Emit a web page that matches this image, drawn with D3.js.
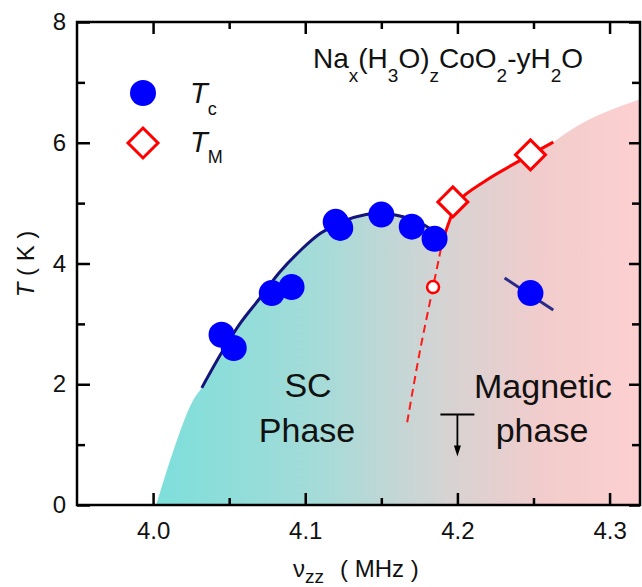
<!DOCTYPE html>
<html>
<head>
<meta charset="utf-8">
<script src="https://cdn.jsdelivr.net/npm/d3@7"></script>
<style>
  body { margin: 0; background: #fff; }
  text { font-family: "Liberation Sans", Arial, sans-serif; fill: #111; }
</style>
</head>
<body>
<svg id="chart" width="642" height="587"></svg>
<script>
// Tc points (filled blue circles)
const tcNu = [4.045, 4.053, 4.078, 4.091, 4.120, 4.123, 4.150, 4.170, 4.185, 4.248];
const tcT  = [2.82, 2.60, 3.51, 3.61, 4.69, 4.59, 4.81, 4.61, 4.41, 3.51];

// TM points (open red diamonds)
const tmNu = [4.197, 4.248];
const tmT  = [5.02, 5.80];

// open red circle
const openNu = [4.184];
const openT  = [3.61];

// upper limit marker (Tc below this)
const limNu = [4.2];
const limT  = [1.5];

// guide line through the Tc dome
const domeNu = [4.032, 4.045, 4.057, 4.070, 4.083, 4.097, 4.110, 4.125, 4.140, 4.150, 4.160, 4.175, 4.185];
const domeT  = [1.94, 2.52, 3.00, 3.42, 3.85, 4.22, 4.50, 4.70, 4.81, 4.83, 4.80, 4.68, 4.52];

// TM guide line, solid part and dashed part
const tmLineNu = [4.190, 4.195, 4.200, 4.219, 4.248, 4.263];
const tmLineT  = [4.35, 4.72, 5.02, 5.38, 5.80, 6.01];
const tmDashNu = [4.167, 4.175, 4.184, 4.188, 4.190];
const tmDashT  = [1.37, 2.50, 3.61, 4.10, 4.35];

// short line through the isolated point
const shortNu = [4.231, 4.263];
const shortT  = [3.76, 3.23];

// shaded phase region upper edge (lower edge is T = 0)
const edgeLeftNu  = [4.002, 4.014, 4.026];
const edgeLeftT   = [0, 0.95, 1.72];
const edgeRightNu = [4.272, 4.32];
const edgeRightT  = [6.17, 6.72];

const xTicks = [4.0, 4.1, 4.2, 4.3];
const xMinor = [4.05, 4.15, 4.25];
const yTicks = [0, 2, 4, 6, 8];
const yMinor = [1, 3, 5, 7];

const svg = d3.select('#chart');
const L = 77, R = 640, T = 22, B = 505;

const x = d3.scaleLinear().domain([3.95, 4.32]).range([L, R]);
const y = d3.scaleLinear().domain([0, 8]).range([B, T]);

const zip = (a, b) => a.map((v, i) => [v, b[i]]);

// clip + gradient
const defs = svg.append('defs');
defs.append('clipPath').attr('id', 'plot')
  .append('rect').attr('x', L).attr('y', T).attr('width', R - L).attr('height', B - T);
const grad = defs.append('linearGradient').attr('id', 'phase')
  .attr('gradientUnits', 'userSpaceOnUse')
  .attr('x1', x(4.0)).attr('x2', x(4.32)).attr('y1', 0).attr('y2', 0);
[[0, '#7cdfdb'], [0.35, '#a6dbd8'], [0.6, '#d6d3d3'], [0.8, '#f2cccc'], [1, '#fdd0d0']]
  .forEach(s => grad.append('stop').attr('offset', s[0]).attr('stop-color', s[1]));

// phase region
const edge = zip(edgeLeftNu, edgeLeftT)
  .concat(zip(domeNu, domeT).filter(d => d[0] < 4.18))
  .concat(zip(tmLineNu, tmLineT))
  .concat(zip(edgeRightNu, edgeRightT));

svg.append('path')
  .datum(edge)
  .attr('clip-path', 'url(#plot)')
  .attr('fill', 'url(#phase)')
  .attr('d', d3.area().x(d => x(d[0])).y0(y(0)).y1(d => y(d[1])).curve(d3.curveMonotoneX));

const line = d3.line().x(d => x(d[0])).y(d => y(d[1])).curve(d3.curveCatmullRom);

svg.append('path').datum(zip(domeNu, domeT))
  .attr('d', line).attr('fill', 'none').attr('stroke', '#14147a').attr('stroke-width', 3);
svg.append('path').datum(zip(shortNu, shortT))
  .attr('d', line).attr('fill', 'none').attr('stroke', '#2a2a8a').attr('stroke-width', 3);
svg.append('path').datum(zip(tmDashNu, tmDashT))
  .attr('d', line).attr('fill', 'none').attr('stroke', '#ff1a1a').attr('stroke-width', 2)
  .attr('stroke-dasharray', '8,5');
svg.append('path').datum(zip(tmLineNu, tmLineT))
  .attr('d', line).attr('fill', 'none').attr('stroke', '#ff0000').attr('stroke-width', 3);

// axes
const axG = svg.append('g').attr('class', 'axes');
function styleAxis(g) {
  g.select('.domain').remove();
  g.selectAll('line').attr('stroke', '#000').attr('stroke-width', 2.5);
  g.selectAll('text').attr('font-size', 24).attr('fill', '#111')
    .style('font-family', '"Liberation Sans", Arial, sans-serif');
}
axG.append('g').attr('transform', `translate(0,${B})`)
  .call(d3.axisBottom(x).tickValues(xTicks).tickFormat(d3.format('.1f')).tickSize(-12).tickPadding(17))
  .call(styleAxis);
axG.append('g').attr('transform', `translate(0,${B})`)
  .call(d3.axisBottom(x).tickValues(xMinor).tickFormat('').tickSize(-7)).call(styleAxis);
axG.append('g').attr('transform', `translate(0,${T})`)
  .call(d3.axisTop(x).tickValues(xTicks).tickFormat('').tickSize(-12)).call(styleAxis);
axG.append('g').attr('transform', `translate(0,${T})`)
  .call(d3.axisTop(x).tickValues(xMinor).tickFormat('').tickSize(-7)).call(styleAxis);
axG.append('g').attr('transform', `translate(${L},0)`)
  .call(d3.axisLeft(y).tickValues(yTicks).tickFormat(d3.format('d')).tickSize(-13).tickPadding(11))
  .call(styleAxis);
axG.append('g').attr('transform', `translate(${L},0)`)
  .call(d3.axisLeft(y).tickValues(yMinor).tickFormat('').tickSize(-8)).call(styleAxis);
axG.append('g').attr('transform', `translate(${R},0)`)
  .call(d3.axisRight(y).tickValues(yTicks).tickFormat('').tickSize(-11)).call(styleAxis);
axG.append('g').attr('transform', `translate(${R},0)`)
  .call(d3.axisRight(y).tickValues(yMinor).tickFormat('').tickSize(-8)).call(styleAxis);
svg.append('rect').attr('x', L).attr('y', T).attr('width', R - L).attr('height', B - T)
  .attr('fill', 'none').attr('stroke', '#000').attr('stroke-width', 2.5);

// markers
svg.append('g').selectAll('circle').data(zip(tcNu, tcT)).join('circle')
  .attr('cx', d => x(d[0])).attr('cy', d => y(d[1])).attr('r', 13).attr('fill', '#0000ff');

const diamond = s => `M0,${-s}L${s},0L0,${s}L${-s},0Z`;
svg.append('g').selectAll('path').data(zip(tmNu, tmT)).join('path')
  .attr('transform', d => `translate(${x(d[0])},${y(d[1])})`)
  .attr('d', diamond(15)).attr('fill', '#fff').attr('stroke', '#ff0000').attr('stroke-width', 3);

svg.append('g').selectAll('circle').data(zip(openNu, openT)).join('circle')
  .attr('cx', d => x(d[0])).attr('cy', d => y(d[1])).attr('r', 6)
  .attr('fill', '#fff').attr('stroke', '#ff0000').attr('stroke-width', 2.5);

// upper-limit arrow
const lim = svg.append('g').selectAll('g').data(zip(limNu, limT)).join('g')
  .attr('transform', d => `translate(${x(d[0])},${y(d[1])})`);
lim.append('line').attr('x1', -17).attr('x2', 17).attr('stroke', '#000').attr('stroke-width', 2);
lim.append('line').attr('y1', 0).attr('y2', 34).attr('stroke', '#000').attr('stroke-width', 1.8);
lim.append('path').attr('d', 'M-3.5,31L3.5,31L0,42Z').attr('fill', '#000');

// phase labels
const lab = (t, cx, by) => svg.append('text').attr('x', cx).attr('y', by)
  .attr('text-anchor', 'middle').attr('font-size', 34).text(t);
lab('SC', 308, 397);
lab('Phase', 307, 442);
lab('Magnetic', 543, 398);
lab('phase', 542, 442);

// compound title
const title = svg.append('text').attr('x', 313).attr('y', 68).attr('font-size', 28);
[['Na', 0], ['x', 1], ['(H', 0], ['3', 1], ['O)', 0], ['z', 1], ['CoO', 0], ['2', 1], ['-yH', 0], ['2', 1], ['O', 0]]
  .reduce((prev, [s, sub]) => {
    const ts = title.append('tspan').text(s);
    if (sub) ts.attr('font-size', 19).attr('dy', 14);
    else if (prev) ts.attr('dy', -14);
    return sub;
  }, 0);

// legend
svg.append('circle').attr('cx', 143).attr('cy', 93).attr('r', 13).attr('fill', '#0000ff');
svg.append('path').attr('transform', 'translate(143,143)').attr('d', diamond(15))
  .attr('fill', '#fff').attr('stroke', '#ff0000').attr('stroke-width', 3);
const leg1 = svg.append('text').attr('x', 190).attr('y', 103).attr('font-size', 29);
leg1.append('tspan').attr('font-style', 'italic').text('T');
leg1.append('tspan').attr('font-size', 18).attr('dy', 12).text('c');
const leg2 = svg.append('text').attr('x', 190).attr('y', 152).attr('font-size', 29);
leg2.append('tspan').attr('font-style', 'italic').text('T');
leg2.append('tspan').attr('font-size', 18).attr('dy', 11).text('M');

// axis titles
const yl = svg.append('text').attr('transform', 'translate(34,264) rotate(-90)')
  .attr('text-anchor', 'middle').attr('font-size', 24);
yl.append('tspan').attr('font-style', 'italic').text('T');
yl.append('tspan').text(' ( K )');

const xl = svg.append('text').attr('x', 293).attr('y', 577).attr('font-size', 24);
xl.append('tspan').text('ν');
xl.append('tspan').attr('font-size', 19).attr('dy', 6).text('zz');
xl.append('tspan').attr('x', 340).attr('dy', -6).text('( MHz )');
</script>
</body>
</html>
